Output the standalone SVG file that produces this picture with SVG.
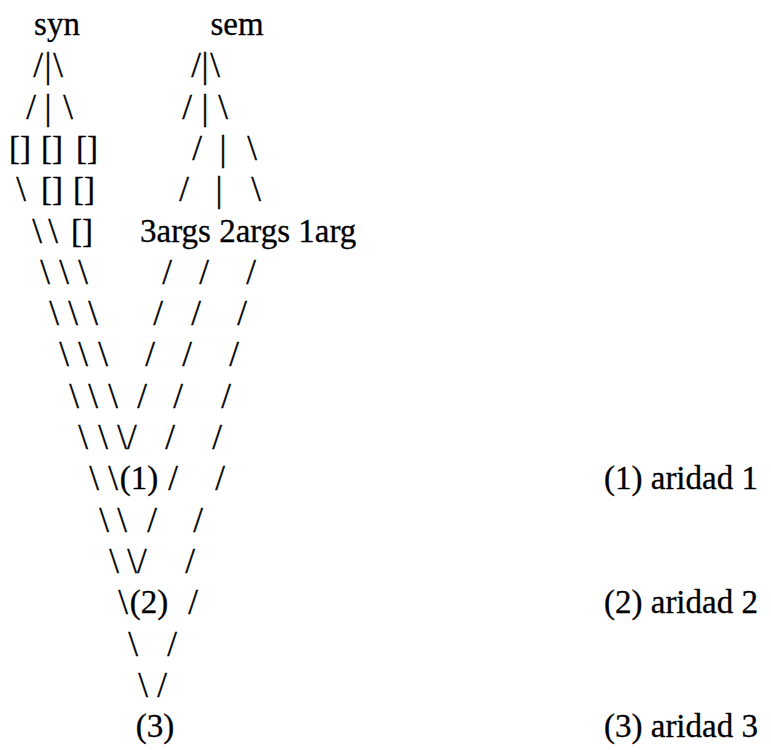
<svg xmlns="http://www.w3.org/2000/svg" width="771" height="752" viewBox="0 0 771 752">
<style>
text{font-family:"Liberation Serif","Times New Roman",serif;font-size:33px;fill:#000;stroke:#000;stroke-width:0.3px}
.m{text-anchor:middle}
#connectors text{font-size:35px}
</style>
<rect width="771" height="752" fill="#fff"/>
<g id="node-syn"><text class="m" x="57" y="35">syn</text></g>
<g id="node-sem"><text class="m" x="237" y="35">sem</text></g>
<g id="node-syn-slots">
<text class="m" x="20" y="159">[]</text><text class="m" x="52" y="159">[]</text><text class="m" x="87" y="159">[]</text>
<text class="m" x="52" y="200">[]</text><text class="m" x="84" y="200">[]</text>
<text class="m" x="82" y="242">[]</text>
</g>
<g id="node-args"><text x="140" y="242">3args 2args 1arg</text></g>
<g id="node-1"><text class="m" x="139" y="489">(1)</text></g>
<g id="node-2"><text class="m" x="149" y="613">(2)</text></g>
<g id="node-3"><text class="m" x="155" y="737">(3)</text></g>
<g id="legend">
<text x="604" y="489">(1) aridad 1</text>
<text x="604" y="613">(2) aridad 2</text>
<text x="604" y="737">(3) aridad 3</text>
</g>
<g id="connectors">
<text class="m" x="38" y="77">/</text><text class="m" x="48" y="77">|</text><text class="m" x="58" y="77">\</text>
<text class="m" x="196" y="77">/</text><text class="m" x="205" y="77">|</text><text class="m" x="215" y="77">\</text>
<text class="m" x="31" y="119">/</text><text class="m" x="48" y="119">|</text><text class="m" x="68" y="119">\</text>
<text class="m" x="187" y="119">/</text><text class="m" x="205" y="119">|</text><text class="m" x="223" y="119">\</text>
<text class="m" x="197" y="160">/</text><text class="m" x="223" y="160">|</text><text class="m" x="252" y="160">\</text>
<text class="m" x="21" y="201">\</text>
<text class="m" x="184" y="201">/</text><text class="m" x="219" y="201">|</text><text class="m" x="256" y="201">\</text>
<text class="m" x="37" y="243">\</text><text class="m" x="53" y="243">\</text>
<text class="m" x="45" y="284">\</text><text class="m" x="64" y="284">\</text><text class="m" x="83" y="284">\</text>
<text class="m" x="167" y="284">/</text><text class="m" x="204" y="284">/</text><text class="m" x="251" y="284">/</text>
<text class="m" x="54" y="325">\</text><text class="m" x="73" y="325">\</text><text class="m" x="93" y="325">\</text>
<text class="m" x="158" y="325">/</text><text class="m" x="196" y="325">/</text><text class="m" x="242" y="325">/</text>
<text class="m" x="64" y="366">\</text><text class="m" x="83" y="366">\</text><text class="m" x="103" y="366">\</text>
<text class="m" x="150" y="366">/</text><text class="m" x="187" y="366">/</text><text class="m" x="234" y="366">/</text>
<text class="m" x="74" y="408">\</text><text class="m" x="93" y="408">\</text><text class="m" x="113" y="408">\</text>
<text class="m" x="142" y="408">/</text><text class="m" x="178" y="408">/</text><text class="m" x="226" y="408">/</text>
<text class="m" x="83" y="449">\</text><text class="m" x="103" y="449">\</text><text class="m" x="127" y="449">\/</text>
<text class="m" x="170" y="449">/</text><text class="m" x="217" y="449">/</text>
<text class="m" x="94" y="490">\</text><text class="m" x="113" y="490">\</text>
<text class="m" x="173" y="490">/</text><text class="m" x="220" y="490">/</text>
<text class="m" x="104" y="532">\</text><text class="m" x="122" y="532">\</text>
<text class="m" x="152" y="532">/</text><text class="m" x="198" y="532">/</text>
<text class="m" x="114" y="573">\</text><text class="m" x="137" y="573">\/</text>
<text class="m" x="190" y="573">/</text>
<text class="m" x="123" y="614">\</text>
<text class="m" x="193" y="614">/</text>
<text class="m" x="133" y="656">\</text><text class="m" x="172" y="656">/</text>
<text class="m" x="143" y="697">\</text><text class="m" x="162" y="697">/</text>
</g>
</svg>
